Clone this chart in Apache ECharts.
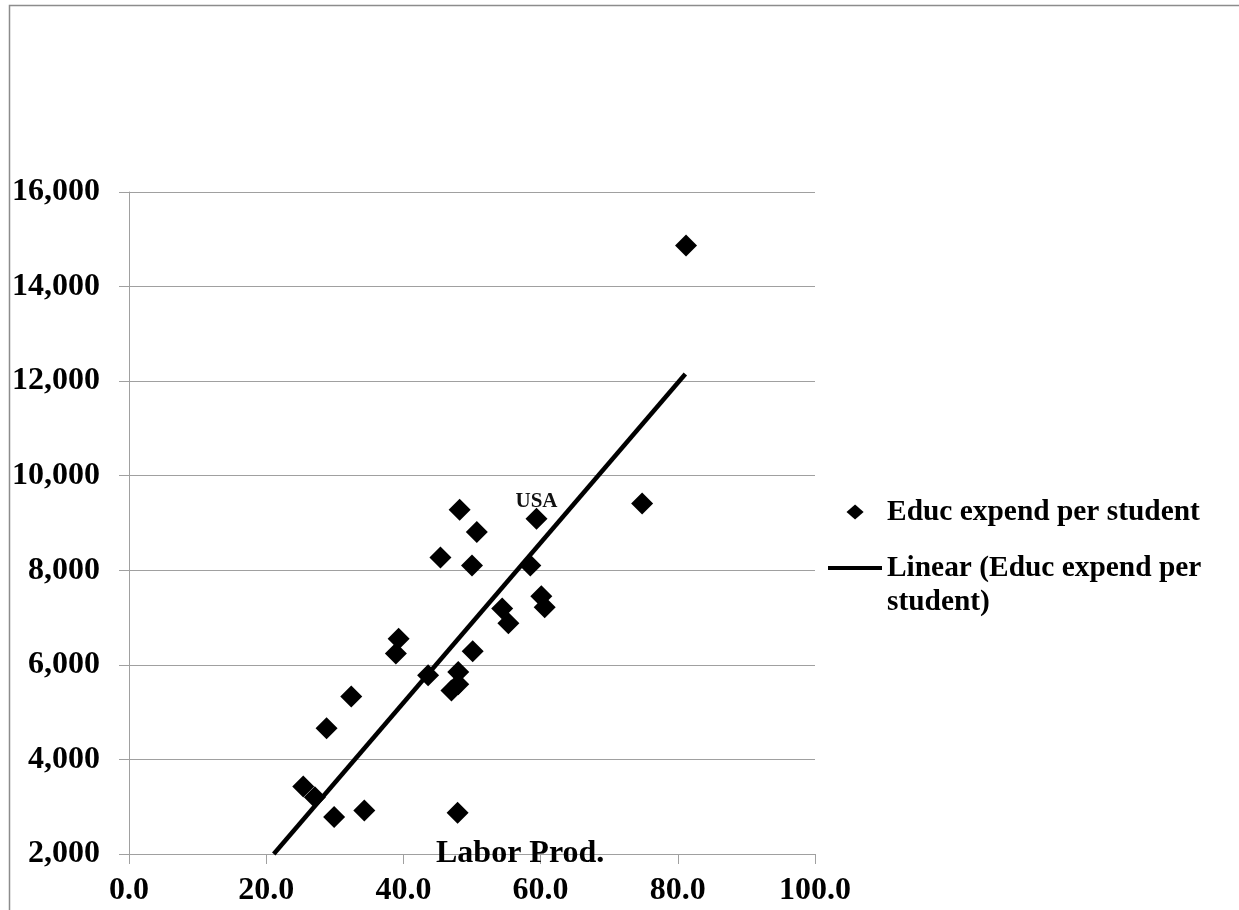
<!DOCTYPE html>
<html>
<head>
<meta charset="utf-8">
<title>Educ expend per student vs Labor Prod.</title>
<script src="https://cdn.jsdelivr.net/npm/echarts@6/dist/echarts.min.js"></script>
<style>
  html, body { margin: 0; padding: 0; background: #fff; }
  #chart { width: 1239px; height: 910px; }
</style>
</head>
<body>
<div id="chart"></div>
<script>
// Labor productivity (x) and education expenditure per student (y), one entry per country
const laborProd = [48.2, 50.7, 45.4, 50.0, 59.4, 58.5, 60.1, 60.6, 54.4, 55.3, 39.3, 38.9, 50.1,
                   43.6, 48.0, 48.0, 47.0, 32.4, 28.8, 25.4, 27.1, 29.9, 34.3, 47.9, 74.8, 81.2];
const educExpend = [9280, 8810, 8270, 8100, 9090, 8100, 7450, 7220, 7190, 6880, 6550, 6240, 6290,
                    5780, 5850, 5590, 5460, 5330, 4660, 3430, 3200, 2780, 2920, 2870, 9410, 14870];
const pointLabels = ['', '', '', '', 'USA', '', '', '', '', '', '', '', '',
                     '', '', '', '', '', '', '', '', '', '', '', '', ''];

// Least-squares trend line end points
const trendX = [21.1, 81.1];
const trendY = [2000, 12150];

// Axis ranges and tick steps
const xTicks = { min: 0, max: 100, step: 20 };
const yTicks = { min: 2000, max: 16000, step: 2000 };

const scatterName = 'Educ expend per student';
const trendName = 'Linear (Educ expend per student)';

const FONT = '"Liberation Serif", "Times New Roman", serif';
const GRID_GREY = '#a0a0a0';

const scatterData = laborProd.map((x, i) => {
  const item = { value: [x, educExpend[i]] };
  if (pointLabels[i]) {
    item.label = {
      show: true,
      formatter: pointLabels[i],
      position: 'top',
      distance: -4,
      fontFamily: FONT,
      fontWeight: 'bold',
      fontSize: 21,
      color: '#111'
    };
  }
  return item;
});
const trendData = trendX.map((x, i) => [x, trendY[i]]);

const chart = echarts.init(document.getElementById('chart'), null, { renderer: 'canvas' });

const legendText = {
  fontFamily: FONT,
  fontWeight: 'bold',
  fontSize: 29.4,
  lineHeight: 34,
  color: '#000'
};

chart.setOption({
  animation: false,
  backgroundColor: '#fff',
  title: {
    text: 'Labor Prod.',
    left: 436,
    top: 838,
    padding: 0,
    textStyle: { fontFamily: FONT, fontWeight: 'bold', fontSize: 32, color: '#000' }
  },
  graphic: [{
    type: 'rect',
    shape: { x: 9.5, y: 5.5, width: 1400, height: 1000 },
    style: { fill: 'none', stroke: '#8c8c8c', lineWidth: 1.5 },
    silent: true,
    z: -10
  }],
  legend: [{
    // the diamond icon is centred in a 54px slot; the box starts at the diamond's own edge
    data: [{ name: scatterName, icon: 'path://M8,0L16,7L8,14L0,7Z' }],
    orient: 'vertical',
    left: 846.5,
    top: 495,
    padding: 0,
    itemWidth: 54,
    itemHeight: 15,
    selectedMode: false,
    textStyle: legendText
  }, {
    // blank first line keeps the icon level with the first line of the wrapped name
    data: [{ name: trendName, icon: 'rect' }],
    orient: 'vertical',
    left: 828,
    top: 517,
    padding: 0,
    itemWidth: 54,
    itemHeight: 4,
    selectedMode: false,
    formatter: () => '\nLinear (Educ expend per\nstudent)',
    textStyle: legendText
  }],
  grid: { left: 129, right: 424, top: 192, bottom: 56 },
  xAxis: {
    type: 'value',
    min: xTicks.min,
    max: xTicks.max,
    interval: xTicks.step,
    axisLine: { show: true, lineStyle: { color: GRID_GREY, width: 1 } },
    axisTick: { show: true, length: 10, lineStyle: { color: GRID_GREY } },
    splitLine: { show: false },
    axisLabel: {
      margin: 21,
      fontFamily: FONT,
      fontWeight: 'bold',
      fontSize: 32,
      color: '#000',
      formatter: v => v.toFixed(1)
    }
  },
  yAxis: {
    type: 'value',
    min: yTicks.min,
    max: yTicks.max,
    interval: yTicks.step,
    axisLine: { show: true, lineStyle: { color: GRID_GREY, width: 1 } },
    axisTick: { show: true, length: 10, lineStyle: { color: GRID_GREY } },
    splitLine: { show: true, lineStyle: { color: GRID_GREY, width: 1 } },
    axisLabel: {
      margin: 29,
      fontFamily: FONT,
      fontWeight: 'bold',
      fontSize: 32,
      color: '#000',
      formatter: v => v.toLocaleString('en-US')
    }
  },
  series: [{
    name: scatterName,
    type: 'scatter',
    symbol: 'diamond',
    symbolSize: 22,
    itemStyle: { color: '#000', opacity: 1 },
    data: scatterData,
    z: 3
  }, {
    name: trendName,
    type: 'line',
    symbol: 'none',
    lineStyle: { color: '#000', width: 4.5 },
    itemStyle: { color: '#000' },
    data: trendData,
    z: 2
  }]
});
</script>
</body>
</html>
